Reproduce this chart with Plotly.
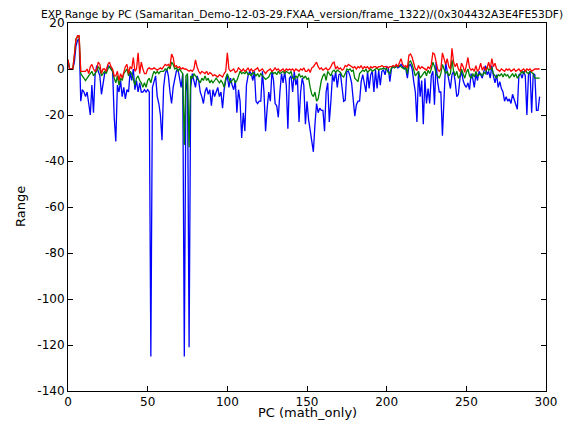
import plotly.graph_objects as go

title_text = "EXP Range by PC (Samaritan_Demo-12-03-29.FXAA_version/frame_1322)/(0x304432A3E4FE53DF)"
x_label = "PC (math_only)"
y_label = "Range"
x_ticks = [0, 50, 100, 150, 200, 250, 300]
y_ticks = [-140, -120, -100, -80, -60, -40, -20, 0, 20]

blue_vals = [
    4, 0, 0, 0, 3, 10, 12.5, 13, -14, -9,
    -10, -12, -10, -15, -20, -7, -19, -2.5, 1.5, -1,
    -3, -11, -6, -2, -1, 1.5, 1, 0, -1, -21,
    -31.5, -7, -10, -5, -12, -8, -13, -9, -10, -1,
    -5, 0, -9, -5, -10, -6, -10, -10, -9, -10,
    -9, -10, -125, -8, -5, -3, -12, -15, -20, -31,
    -8, -2, 0, -3, -10, -15, -8, -5, -1, 0,
    -5, -8, -2, -125, -10, -3, -121, -8, -2, -5,
    -8, -3, -5, -10, -12, -15, -10, -8, -11, -9,
    -16, -9, -12, -10, -8, -12, -10, -17, -9, -5,
    -3, -8, -4, -7, -9, -5, -19, -9, -14, -30,
    -19, -27, -7, -3, -1, -2, -5, -1, -14, -15,
    -14, -14, -1, -10, -27, -17, -10, -14, -1, -5,
    -15, -16, -21, -10, -2, -6, -1, -7, -26, -4,
    -3, -10, -1, -7, -4, -23, -10, -4, -7, -24,
    -14, -22, -27, -31, -36, -24, -15, -19, -17, -18,
    -18, -27, -10, -6, -23, -14, -2.5, -5.5, -1, -8,
    -2.5, -2, -8, -14, -13.5, -1, -1, -3, -6, -14,
    -20.5, -15.5, -14, -14, -5.5, -2.5, -6, -10, -1, -8.5,
    -2.5, -1, -10, -0.5, -8.5, -0.5, -7, -1, -0.5, -2.5,
    1, 0.5, -5.5, 0, 1, 1, 1.5, 0.5, 1, 2,
    1, 0.5, 0, -4, 1.5, 2, 0, -5.5, -10, -23,
    -1, -12, -5, -24, -4, -15, -8.5, -15, -3, -1,
    -15.5, 3, -5.5, -10, -10, -29, -11, 3, -1, -5.5,
    -8.5, -2.5, -1, -5.5, -12, -11, -4, -1, -5, -7,
    -8, -6, -9, -2, -4, -8, -2, -5, -1, -2.5,
    -4, -1, 1.5, -2.5, -1, -4, 1.5, -3, -6, -2.5,
    -8, -5.5, -8.5, -10, -14, -12, -14, -13, -15, -11,
    -13.5, -15.5, -17.5, -2.5, -2, -4, -1, -3, -20, -2.5,
    -1, -19, -2, -2.5, -18, -18, -12,
]

green_vals = [
    4, 0, 0, 0, 6, 13, 14, 14, -2, -3,
    -4, -5, -4, -3, -2, -1, -3, -2, -1, 1,
    0, -3, -2, -1, -2, 0, 1, 0, -1, -4,
    -6, -3, -7, -4, -5, -2, -1, 0, -3, -1,
    -2, -5, -7, -4, -3, -5, -6, -8, -6, -8,
    -5, -4, -6, -3, -1, -2, -1, -2, -1, -1,
    -1, 0, -0.5, 1, 0, 3, 2, 0, 0.5, -1,
    0, -1, -2, -33, -3, -2, -34, -3, -4, -2,
    -3, -4, -5, -6, -4, -5, -3, -5, -4, -6,
    -5, -6, -5, -4, -5, -6, -5, -6, -8, -4,
    -2, -4, -6, -5, -4, -6, -5, -3, -1, -2,
    -1.5, -2, -1, -2.5, -2, -3, -1.5, -2, -3, -2,
    -3.5, -2, -3, -4, -4.5, -4, -3.5, -2, -1, -2,
    -1.5, -2.5, -1, -2, -1.5, -1, -2, -1, -1.5, -2,
    -1, -4, -4.5, -3, -4, -2, -3.5, -3, -4, -3,
    -4.5, -4, -8, -11, -12, -10, -14, -13, -9, -5,
    -3, -2, -5, -1, -2, -3, -1, -0.5, -1.5, -0.5,
    -1, -1.5, -3, -3.5, -2, 0, -0.5, 0, -1, -0.5,
    -4, -5, -5.5, -2, -1, -0.5, -1, 0, -1.5, -0.5,
    0, -1, -0.5, 0, 0.5, -0.5, 0, 0, 0.5, 0,
    0, -1.5, -2, 0.5, 1, 0.5, 1, 1, 1.5, 1,
    0.5, 0, 1, -2, 3, 3.5, 2, -1, -3, -2,
    -1, -4, -3, -2, -1, -3, -0.5, -2, 0, 3,
    1, -2, -3, -4, -2, 2, 0, -2, -1, -3,
    -2, 4, -1, -3, -1, -4, -3, 0, -2, -4,
    -1.5, 0, -3, -4, -2, -3.5, -1, -3, -2.5, -2,
    -3, -1.5, -2, 1, -0.5, 0, 0.5, -2, -3, -4,
    -2.5, -3, -2, -3.5, -2, -3, -2.5, -4, -3, -2,
    -3.5, -2, -4, -3, -1.5, -1, -2, -0.5, -1.5, -2,
    -1, -1.5, -2, -4, -4, -4, -4,
]

red_vals = [
    4, 0, 0, 0, 6, 13, 14.5, 14.5, -1, -1,
    -1, -1, 0, -2, 1, 2, 0, -1, 0, 3,
    2, -2, 0, 0, -1, 2, 3, 1, 0, -3,
    -3, -1, -5, -2, -4, -1, 1, 2, -2, 1,
    0, 5, -1, 0, 7, -2, 3, 0, -2, -2,
    0, 0.5, 0, 0, 0.5, 0, -0.5, 0, 0.5, 0,
    1, 2, 1.5, 2, 1, 6.5, 5, 1, 1.5, 0.5,
    1, 0, 0.5, 0, 0, -0.5, -1, -0.5, -1, 0,
    4, 1, -1, -2, -1, -1.5, -2, -1, -2.5, -1.5,
    -2, -3, -2.5, -3, -3.5, -2.5, -3, -3.5, -2, -1,
    7, 0, -1, -0.5, 0, -1.5, -1, 0.5, -0.5, -1,
    0, -1, -0.5, 0.5, -1, 0, -1, -0.5, 0, 0.5,
    -1, -0.5, 0, -1, -2, -1, -0.5, 0, -1, -0.5,
    0.5, -0.5, 0, -1, -0.5, 0, -1, 0, -0.5, 0,
    -0.5, 0, -1, 0, -0.5, -1, 0, -0.5, 0.5, -1,
    -1, 0, -1.5, 0.5, 1, 2, 3, 1, 0, 0.5,
    -0.5, 0, 0.5, -0.5, 0, 1, 2.5, 3, 0, 1,
    0, 0.5, -0.5, 0, 1.5, 1, 2, 1.5, 1, 0.5,
    1, 0, 1, 0.5, 1.5, 0, 1, 0.5, 1, 0,
    1, 0.5, 1, 1, 0.5, 1, 1, 1.5, 1, 1,
    1, 0.5, 1, 1, 1.5, 1, 2, 1, 3, 4.5,
    2, 1, 1.5, 0.5, 6, 6.5, 5, 2, 0, -0.5,
    1.5, 0, 1, 0.5, 0, -0.5, 1, 0, 2, 7,
    6.5, 3, 0, -1, 0, 7, 4, 2, 4.5, 1,
    0, 9, 3, 1, 2.5, 0, -1, 2.5, 1, -1.5,
    1.5, 5, 0.5, -0.5, 0, -1, 1.5, -1, 0, 2.5,
    -0.5, 1, -0.5, 0.5, 3, 0, 4.5, 1, 2.5, 0,
    -0.5, -1, 0, -0.5, -1, 0, -0.5, 0, -1, -0.5,
    0, -1, -0.5, 0, -1, -0.5, 0, -1, 0, -0.5,
    0, -1, -0.5, 0, 0, 0, 0,
]

pcs = list(range(len(blue_vals)))

# The page body has an 8px default margin, so the figure is sized/shifted to compensate.
W, H = 563, 420

fig = go.Figure()
for vals, col in [(blue_vals, "#0000ff"), (green_vals, "#008000"), (red_vals, "#ff0000")]:
    fig.add_trace(go.Scatter(x=pcs[:len(vals)], y=vals, mode="lines",
                             line=dict(color=col, width=1.3), showlegend=False,
                             hoverinfo="skip"))

axis_common = dict(showline=True, linecolor="black", linewidth=1, mirror="ticks",
                   ticks="inside", ticklen=5, tickcolor="black", showgrid=False,
                   zeroline=False, automargin=False,
                   tickfont=dict(family="DejaVu Sans", size=12, color="black"))

fig.update_layout(
    width=W, height=H,
    margin=dict(l=60, r=25, t=15, b=37, autoexpand=False),
    paper_bgcolor="white", plot_bgcolor="white",
    font=dict(family="DejaVu Sans", color="black"),
    title=dict(text=title_text, x=(302 - 8) / W, xanchor="center",
               y=1 - 6 / H, yanchor="middle", yref="container", automargin=False,
               font=dict(family="DejaVu Sans", size=10.6, color="black")),
    xaxis=dict(range=[0, 300], tickvals=x_ticks, ticktext=[str(t) for t in x_ticks],
               **axis_common),
    yaxis=dict(range=[-140, 20], tickvals=y_ticks, ticktext=[str(t) for t in y_ticks],
               **axis_common),
    annotations=[
        dict(text=x_label, xref="paper", yref="paper", x=0.5, y=0, yshift=-21,
             xanchor="center", yanchor="middle", showarrow=False,
             font=dict(family="DejaVu Sans", size=13, color="black")),
        dict(text=y_label, xref="paper", yref="paper", x=0, y=0.5, xshift=-48,
             xanchor="center", yanchor="middle", textangle=-90, showarrow=False,
             font=dict(family="DejaVu Sans", size=13, color="black")),
    ],
)

fig.write_html("out.html")
